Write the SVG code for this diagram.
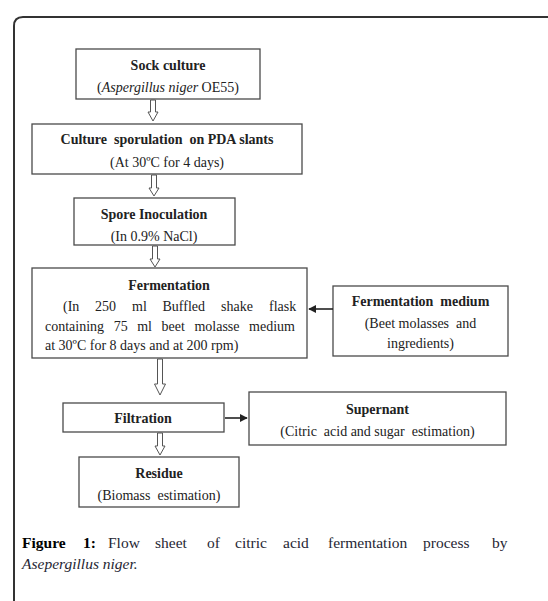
<svg xmlns="http://www.w3.org/2000/svg" width="548" height="601" viewBox="0 0 548 601">
<style>
.box{fill:#fff;stroke:#4a4a4a;stroke-width:1.3}
.t{font-family:"Liberation Serif","Times New Roman",serif;font-size:14px;fill:#222}
.b{font-weight:bold}
.c{text-anchor:middle}
.ha{fill:#fff;stroke:#555;stroke-width:1}
.la{stroke:#222;stroke-width:1.6;fill:none}
.cap{font-family:"Liberation Serif","Times New Roman",serif;font-size:15.5px;fill:#262633}
</style>
<defs>
<marker id="ah" viewBox="0 0 10 10" refX="9" refY="5" markerWidth="5" markerHeight="5" orient="auto">
<path d="M0,0 L10,5 L0,10 z" fill="#222"/>
</marker>
</defs>
<rect width="548" height="601" fill="#fff"/>
<path d="M14 601 V26 Q14 17 23 17 H548" fill="none" stroke="#333" stroke-width="2"/>

<g id="n1">
<rect class="box" x="76" y="49" width="184" height="50"/>
<text class="t b c" x="168" y="70">Sock culture</text>
<text class="t c" x="168" y="92">(<tspan font-style="italic">Aspergillus  niger</tspan> OE55)</text>
</g>
<g id="n2">
<rect class="box" x="32" y="124" width="270" height="50"/>
<text class="t b c" x="167" y="144" xml:space="preserve">Culture  sporulation  on PDA slants</text>
<text class="t c" x="167" y="167">(At 30ºC for  4 days)</text>
</g>
<g id="n3">
<rect class="box" x="74" y="198" width="161" height="47"/>
<text class="t b c" x="154" y="219">Spore Inoculation</text>
<text class="t c" x="154" y="241">(In 0.9% NaCl)</text>
</g>
<g id="n4">
<rect class="box" x="32" y="268" width="275" height="90"/>
<text class="t b c" x="169" y="290">Fermentation</text>
<text class="t" y="311"><tspan x="63">(In</tspan><tspan x="95">250</tspan><tspan x="132">ml</tspan><tspan x="162.5">Buffled</tspan><tspan x="221">shake</tspan><tspan x="269">flask</tspan></text>
<text class="t" y="331"><tspan x="45">containing</tspan><tspan x="113.7">75</tspan><tspan x="137.2">ml</tspan><tspan x="161.6">beet</tspan><tspan x="194.4">molasse</tspan><tspan x="249.1">medium</tspan></text>
<text class="t" x="45" y="350">at 30ºC for 8 days and at 200 rpm)</text>
</g>
<g id="n5">
<rect class="box" x="333" y="286" width="175" height="70"/>
<text class="t b c" x="420.5" y="306" xml:space="preserve">Fermentation  medium</text>
<text class="t c" x="420.5" y="328" xml:space="preserve">(Beet molasses  and</text>
<text class="t c" x="420.5" y="348">ingredients)</text>
</g>
<g id="n6">
<rect class="box" x="63" y="403" width="161" height="29"/>
<text class="t b c" x="143" y="423">Filtration</text>
</g>
<g id="n7">
<rect class="box" x="249" y="392" width="257" height="53"/>
<text class="t b c" x="377.5" y="414">Supernant</text>
<text class="t c" x="377.5" y="436" xml:space="preserve">(Citric  acid and sugar  estimation)</text>
</g>
<g id="n8">
<rect class="box" x="79" y="457" width="160" height="50"/>
<text class="t b c" x="159" y="478">Residue</text>
<text class="t c" x="159" y="500" xml:space="preserve">(Biomass  estimation)</text>
</g>

<g id="connectors">
<path class="ha" d="M150.5 100 V112 H148 L153 121 L158 112 H155.5 V100 z"/>
<path class="ha" d="M151.5 175 V188 H149 L154 196 L159 188 H156.5 V175 z"/>
<path class="ha" d="M152.5 246 V259 H150 L155 267 L160 259 H157.5 V246 z"/>
<path class="ha" d="M157.5 359 V384 H154.5 L160 395 L165.5 384 H162.5 V359 z"/>
<path class="ha" d="M157.5 433 V446 H155 L160 455 L165 446 H162.5 V433 z"/>
<line class="la" x1="333" y1="309" x2="309" y2="309" marker-end="url(#ah)"/>
<line class="la" x1="225" y1="418" x2="247" y2="418" marker-end="url(#ah)"/>
</g>

<g id="caption">
<text class="cap" y="548"><tspan x="22" font-weight="bold" fill="#000">Figure</tspan><tspan x="83" font-weight="bold" fill="#000">1:</tspan><tspan x="108">Flow</tspan><tspan x="155">sheet</tspan><tspan x="207">of</tspan><tspan x="235">citric</tspan><tspan x="283">acid</tspan><tspan x="328">fermentation</tspan><tspan x="423">process</tspan><tspan x="492">by</tspan></text>
<text class="cap" x="22" y="569" font-style="italic">Asepergillus niger.</text>
</g>
</svg>
